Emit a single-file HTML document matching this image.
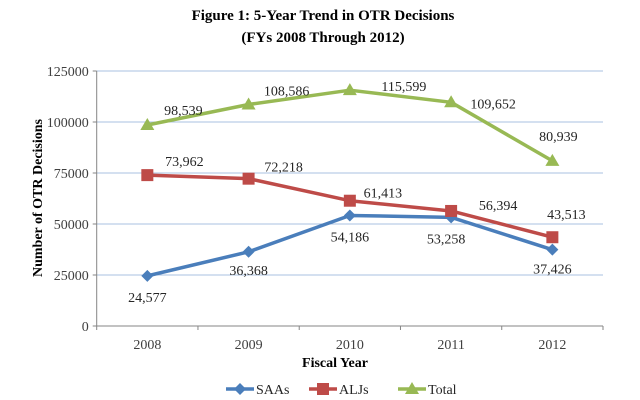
<!DOCTYPE html>
<html><head><meta charset="utf-8"><style>
body{margin:0;background:#fff;}
svg{display:block;font-family:"Times New Roman","Liberation Serif","DejaVu Serif",serif;}
svg text{font-family:"Times New Roman","Liberation Serif","DejaVu Serif",serif;}
</style></head><body>
<svg id="c" width="640" height="400">
<text x="323" y="20" text-anchor="middle" font-size="15" font-weight="bold">Figure 1: 5-Year Trend in OTR Decisions</text>
<text x="323" y="42" text-anchor="middle" font-size="15" font-weight="bold">(FYs 2008 Through 2012)</text>
<text transform="translate(42,198) rotate(-90)" text-anchor="middle" font-size="14" font-weight="bold">Number of OTR Decisions</text>
<text x="335" y="367" text-anchor="middle" font-size="14" font-weight="bold">Fiscal Year</text>
<g id="g"></g>
</svg>
<script>
const categories=["2008","2009","2010","2011","2012"];
const saas=[24577,36368,54186,53258,37426];
const aljs=[73962,72218,61413,56394,43513];
const total=[98539,108586,115599,109652,80939];
const yTicks=[0,25000,50000,75000,100000,125000];
const saaLabels=["24,577","36,368","54,186","53,258","37,426"];
const aljLabels=["73,962","72,218","61,413","56,394","43,513"];
const totalLabels=["98,539","108,586","115,599","109,652","80,939"];
const X0=96.7,X1=603,Y0=326,Y1=71,YMAX=125000;
const bw=(X1-X0)/categories.length;
const xs=i=>X0+bw*(i+0.5);
const ys=v=>Y0-(v/YMAX)*(Y0-Y1);
const NS="http://www.w3.org/2000/svg";
const g=document.getElementById('g');
function mk(t,a,txt){const e=document.createElementNS(NS,t);for(const k in a)e.setAttribute(k,a[k]);if(txt!=null){e.textContent=String(txt);}g.appendChild(e);return e;}
yTicks.forEach(v=>{
 if(v>0){const l=mk('line',{x1:X0,x2:X1,y1:ys(v),y2:ys(v),stroke:'#a9c1e0','stroke-width':1});
 
 }
 const t=mk('text',{x:X0-8,y:ys(v)+5,'text-anchor':'end','font-size':14,fill:'#404040'},v);
 
 
 const tk=mk('line',{x1:X0-4,x2:X0,y1:ys(v),y2:ys(v),stroke:'#868686'});
 
 
});
let ax=mk('line',{x1:X0,x2:X0,y1:Y1,y2:Y0,stroke:'#868686'});


ax=mk('line',{x1:X0,x2:X1,y1:Y0,y2:Y0,stroke:'#868686'});


for(let i=0;i<=categories.length;i++){
 const tk=mk('line',{x1:X0+bw*i,x2:X0+bw*i,y1:Y0,y2:Y0+4,stroke:'#868686'});
 
 
}
categories.forEach((c,i)=>{
 const t=mk('text',{x:xs(i),y:Y0+23,'text-anchor':'middle','font-size':14,fill:'#404040'},c);
 
 
});
function marker(type,x,y,col){
 let e;
 if(type==='d')e=mk('polygon',{points:`${x},${y-6} ${x+6},${y} ${x},${y+6} ${x-6},${y}`,fill:col});
 else if(type==='s')e=mk('rect',{x:x-6,y:y-6,width:12,height:12,fill:col});
 else e=mk('polygon',{points:`${x},${y-7} ${x+7},${y+5} ${x-7},${y+5}`,fill:col});
 return e;
}
const series=[
 {name:'saas',vals:saas,labels:saaLabels,col:'#4a7ebb',m:'d',dx:[0,0,0,-5,0],dy:[26,23,26,26,24]},
 {name:'aljs',vals:aljs,labels:aljLabels,col:'#be4b48',m:'s',dx:[37,35,33,47,14],dy:[-9,-7,-3,-1,-18]},
 {name:'total',vals:total,labels:totalLabels,col:'#98b954',m:'t',dx:[36,38,54,42,6],dy:[-10,-9,1,6,-20]}
];
series.forEach(s=>{
 const pts=s.vals.map((v,i)=>xs(i)+','+ys(v)).join(' ');
 const pl=mk('polyline',{points:pts,fill:'none',stroke:s.col,'stroke-width':3.5,'stroke-linejoin':'round'});
 
 
 s.vals.forEach((v,i)=>{
  const m=marker(s.m,xs(i),ys(v),s.col);
  
  
  const t=mk('text',{x:xs(i)+s.dx[i],y:ys(v)+s.dy[i],'text-anchor':'middle','font-size':14,fill:'#262626'},s.labels[i]);
  
  
 });
});
const leg=[['SAAs','#4a7ebb','d',240],['ALJs','#be4b48','s',323],['Total','#98b954','t',412]];
leg.forEach(l=>{
 const ln=mk('line',{x1:l[3]-14,x2:l[3]+14,y1:389,y2:389,stroke:l[1],'stroke-width':3.5});
 
 
 const m=marker(l[2],l[3],389,l[1]);
 
 
 const t=mk('text',{x:l[3]+16,y:394,'font-size':14,fill:'#262626'},l[0]);
 
 
});
</script>
</body></html>
